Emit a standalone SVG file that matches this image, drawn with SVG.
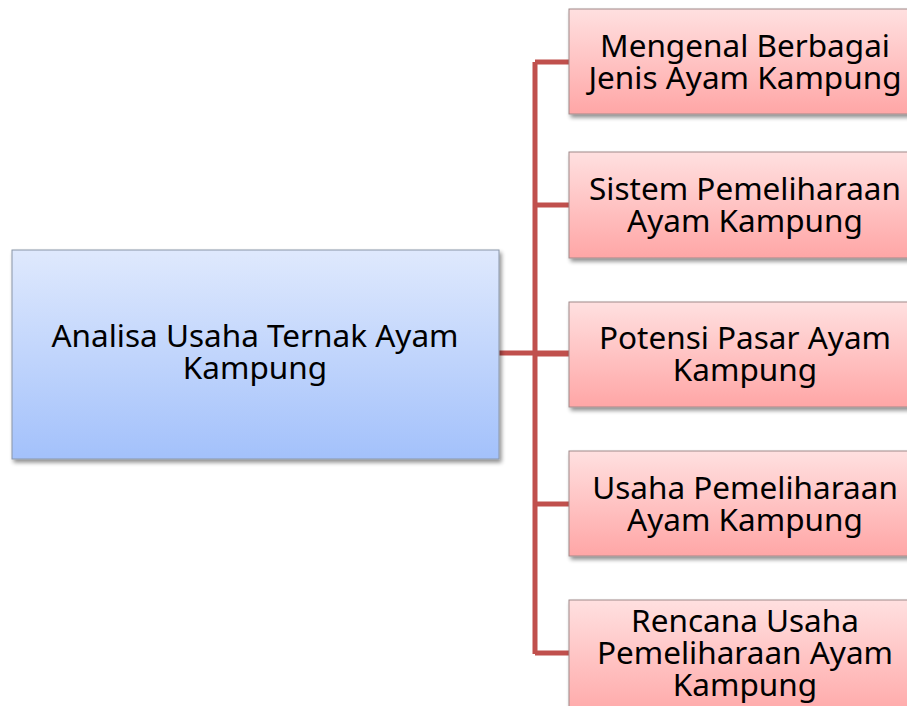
<svg xmlns="http://www.w3.org/2000/svg" width="907" height="706" viewBox="0 0 907 706">
<style>
.t{font-family:"Noto Sans","Liberation Sans",sans-serif;font-size:31.5px;fill:#000;text-anchor:middle}
.main{fill:url(#gb);stroke:#8a96a8;stroke-width:1}
.sub{fill:url(#gr);stroke:#a08a8a;stroke-width:1}
.c{fill:none;stroke:#c0504d;stroke-width:5}
</style>
<defs>
<linearGradient id="gb" x1="0" y1="0" x2="0" y2="1"><stop offset="0" stop-color="#dfe9fd"/><stop offset="1" stop-color="#a3c1fb"/></linearGradient>
<linearGradient id="gr" x1="0" y1="0" x2="0" y2="1"><stop offset="0" stop-color="#ffe0e0"/><stop offset="1" stop-color="#ffa6a6"/></linearGradient>
<filter id="sh" x="-5%" y="-5%" width="112%" height="115%"><feGaussianBlur in="SourceAlpha" stdDeviation="2"/><feOffset dx="2" dy="3"/><feComponentTransfer><feFuncA type="linear" slope="0.45"/></feComponentTransfer><feMerge><feMergeNode/><feMergeNode in="SourceGraphic"/></feMerge></filter>
</defs>
<g id="connectors">
<path class="c" d="M499 353H569M535 62V654M535 62H569M535 205H569M535 354H569M535 504H569M535 653H569"/>
</g>
<g id="main"><rect class="main" filter="url(#sh)" x="12" y="250" width="487" height="209"/>
<text class="t" x="255" y="347">Analisa Usaha Ternak Ayam</text><text class="t" x="255" y="379">Kampung</text></g>
<g id="n1"><rect class="sub" filter="url(#sh)" x="569" y="9" width="352" height="105"/>
<text class="t" x="745" y="57">Mengenal Berbagai</text><text class="t" x="745" y="89">Jenis Ayam Kampung</text></g>
<g id="n2"><rect class="sub" filter="url(#sh)" x="569" y="152" width="352" height="106"/>
<text class="t" x="745" y="200">Sistem Pemeliharaan</text><text class="t" x="745" y="232">Ayam Kampung</text></g>
<g id="n3"><rect class="sub" filter="url(#sh)" x="569" y="302" width="352" height="105"/>
<text class="t" x="745" y="349">Potensi Pasar Ayam</text><text class="t" x="745" y="381">Kampung</text></g>
<g id="n4"><rect class="sub" filter="url(#sh)" x="569" y="451" width="352" height="105"/>
<text class="t" x="745" y="499">Usaha Pemeliharaan</text><text class="t" x="745" y="531">Ayam Kampung</text></g>
<g id="n5"><rect class="sub" filter="url(#sh)" x="569" y="600" width="352" height="120"/>
<text class="t" x="745" y="632">Rencana Usaha</text><text class="t" x="745" y="664">Pemeliharaan Ayam</text><text class="t" x="745" y="696">Kampung</text></g>
</svg>
